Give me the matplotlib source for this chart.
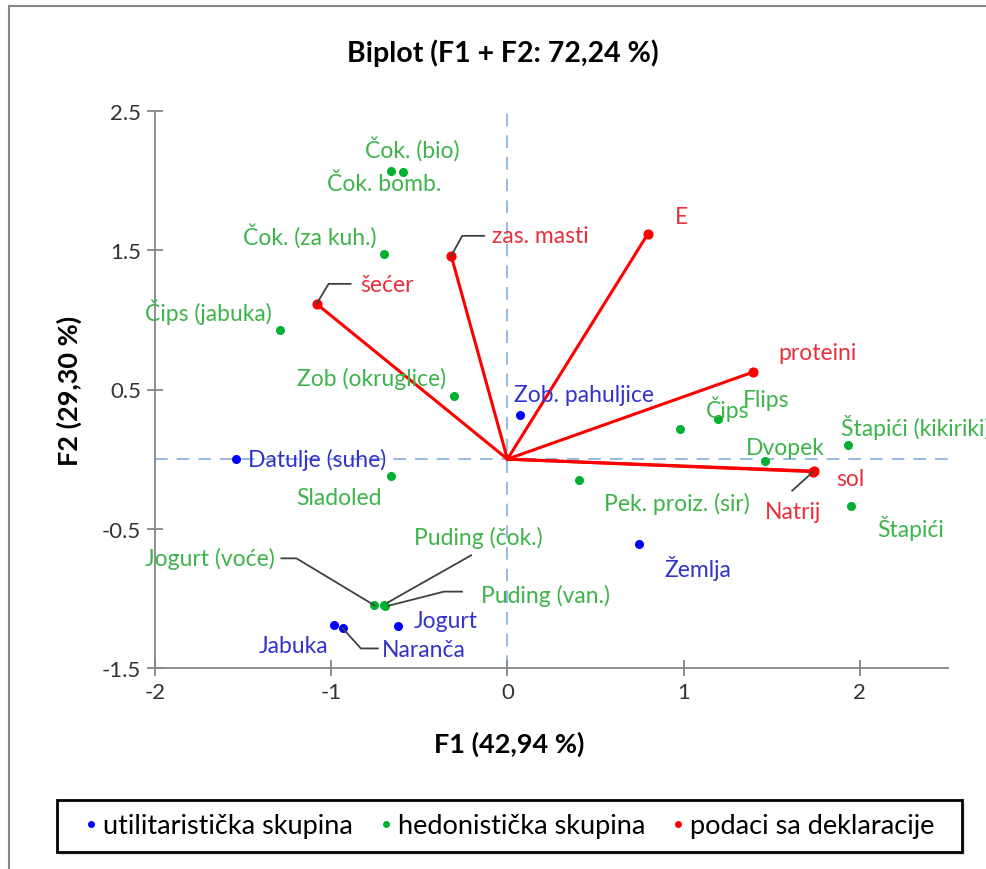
import numpy as np
import matplotlib.pyplot as plt
from matplotlib.lines import Line2D
from matplotlib.patches import Rectangle
from matplotlib.transforms import IdentityTransform

plt.rcParams['font.family'] = ['Lato', 'DejaVu Sans']
plt.rcParams['axes.unicode_minus'] = False

# utilitarian group (blue)
blue_names = ['Zob. pahuljice', 'Datulje (suhe)', 'Žemlja', 'Jogurt', 'Jabuka', 'Naranča']
blue_x = [0.074, -1.54, 0.746, -0.62, -0.986, -0.934]
blue_y = [0.317, 0.0, -0.61, -1.20, -1.19, -1.216]

# hedonistic group (green)
green_names = ['Čok. (bio)', 'Čok. bomb.', 'Čok. (za kuh.)', 'Čips (jabuka)', 'Zob (okruglice)',
               'Sladoled', 'Jogurt (voće)', 'Puding (čok.)', 'Puding (van.)', 'Čips', 'Flips',
               'Dvopek', 'Štapići (kikiriki)', 'Štapići', 'Pek. proiz. (sir)']
green_x = [-0.661, -0.593, -0.70, -1.288, -0.302, -0.661, -0.755, -0.70, -0.695,
           0.98, 1.197, 1.464, 1.93, 1.95, 0.405]
green_y = [2.07, 2.065, 1.475, 0.928, 0.453, -0.122, -1.05, -1.05, -1.052,
           0.216, 0.288, -0.013, 0.10, -0.34, -0.152]

# variables from the declaration (red vectors)
red_names = ['šećer', 'zas. masti', 'E', 'proteini', 'sol', 'Natrij']
red_x = [-1.083, -0.319, 0.798, 1.396, 1.738, 1.735]
red_y = [1.115, 1.46, 1.62, 0.626, -0.086, -0.09]

# label placement: (dx, dy) in pixels from the point (dy down), alignment, leader path
place = {
    'Zob. pahuljice': (-6, -20, 'left', None),
    'Datulje (suhe)': (12, 0, 'left', None),
    'Žemlja': (26, 23, 'left', None),
    'Jogurt': (16, -6, 'left', None),
    'Jabuka': (-5, 21, 'right', None),
    'Naranča': (39, 21, 'left', [(0, 0), (18, 20), (35, 20)]),
    'Čok. (bio)': (21, -23, 'center', None),
    'Čok. bomb.': (-19, 12, 'center', None),
    'Čok. (za kuh.)': (-8, -19, 'right', None),
    'Čips (jabuka)': (-9, -19, 'right', None),
    'Zob (okruglice)': (-8, -18, 'right', None),
    'Sladoled': (-9, 21, 'right', None),
    'Jogurt (voće)': (-100, -47, 'right', [(0, 0), (-78, -47), (-93, -47)]),
    'Puding (čok.)': (30, -68, 'left', [(4, -3), (87, -50)]),
    'Puding (van.)': (96, -11, 'left', [(4, 0), (59, -14), (77, -14)]),
    'Čips': (26, -21, 'left', None),
    'Flips': (24, -20, 'left', None),
    'Dvopek': (-20, -13, 'left', None),
    'Štapići (kikiriki)': (-7, -19, 'left', None),
    'Štapići': (26, 21, 'left', None),
    'Pek. proiz. (sir)': (25, 23, 'left', None),
    'šećer': (44, -19, 'left', [(0, 0), (12, -20), (34, -20)]),
    'zas. masti': (41, -20, 'left', [(0, 0), (11, -20), (33, -20)]),
    'E': (27, -17, 'left', None),
    'proteini': (25, -19, 'left', None),
    'sol': (22, 7, 'left', None),
    'Natrij': (-20, 40, 'center', [(0, 0), (-21, 19)]),
}

W, H = 987, 870
fig = plt.figure(figsize=(W / 100, H / 100), dpi=100)
ax = fig.add_axes([155 / W, 1 - 669 / H, (948 - 155) / W, (669 - 112) / H])
ax.set_xlim(-2, 2.5)
ax.set_ylim(-1.5, 2.5)

ax.axhline(0, color='#8db3e2', lw=1.3, dashes=(7, 5), zorder=1)
ax.axvline(0, color='#8db3e2', lw=1.3, dashes=(7, 5), zorder=1)

for x, y in zip(red_x, red_y):
    ax.plot([0, x], [0, y], color='#ff0000', lw=2.2, zorder=2)
ax.scatter(red_x, red_y, s=40, color='#ff0000', zorder=3)
ax.scatter(blue_x, blue_y, s=30, color='#0000ff', zorder=3)
ax.scatter(green_x, green_y, s=30, color='#00b030', zorder=3)

fig.canvas.draw()


def label(names, xs, ys, color):
    for n, x, y in zip(names, xs, ys):
        dx, dy, ha, path = place[n]
        ax.annotate(n, (x, y), xytext=(dx, -dy), textcoords='offset pixels',
                    ha=ha, va='center', color=color, fontsize=16.5, zorder=4,
                    annotation_clip=False)
        if path:
            px, py = ax.transData.transform((x, y))
            lx = [px + a for a, b in path]
            ly = [py - b for a, b in path]
            fig.add_artist(Line2D(lx, ly, transform=IdentityTransform(),
                                  color='#404040', lw=1.3))


label(blue_names, blue_x, blue_y, '#3333cc')
label(green_names, green_x, green_y, '#3cb44a')
label(red_names, red_x, red_y, '#e8303c')

for s in ['top', 'right']:
    ax.spines[s].set_visible(False)
for s in ['left', 'bottom']:
    ax.spines[s].set_color('#868686')
    ax.spines[s].set_linewidth(1.3)
ax.set_xticks([-2, -1, 0, 1, 2])
ax.set_yticks([-1.5, -0.5, 0.5, 1.5, 2.5])
ax.set_yticklabels(['-1.5', '-0.5', '0.5', '1.5', '2.5'])
ax.tick_params(direction='inout', length=12, width=1.3, color='#868686',
               labelsize=16, labelcolor='#333333', pad=4)

ax.set_title('Biplot (F1 + F2: 72,24 %)', fontsize=20.5, fontweight='bold', pad=36,
             x=(503 - 155) / 793)
ax.set_xlabel('F1 (42,94 %)', fontsize=19.5, fontweight='bold')
ax.xaxis.set_label_coords((509 - 155) / 793, -(732 - 669) / 557)
ax.set_ylabel('F2 (29,30 %)', fontsize=19.5, fontweight='bold', labelpad=14)

# outer frame lines (top and left)
fig.add_artist(Line2D([9 / W, 9 / W], [0, 1 - 7 / H], color='#888888', lw=1.5))
fig.add_artist(Line2D([9 / W, 1], [1 - 7 / H, 1 - 7 / H], color='#888888', lw=1.5))

# legend box
fig.add_artist(Rectangle((60 / W, 1 - 856 / H), 905 / W, 52 / H, transform=fig.transFigure,
                         facecolor='#cccccc', edgecolor='none', alpha=0.6))
fig.add_artist(Rectangle((57 / W, 1 - 853 / H), 905 / W, 52 / H, transform=fig.transFigure,
                         facecolor='white', edgecolor='black', lw=2))
handles = [Line2D([], [], ls='none', marker='o', ms=4, color=c)
           for c in ['#0000ff', '#00b030', '#ff0000']]
fig.legend(handles, ['utilitaristička skupina', 'hedonistička skupina', 'podaci sa deklaracije'],
           loc='center', bbox_to_anchor=(510 / W, 1 - 827 / H), ncol=3, frameon=False,
           fontsize=19.5, handlelength=0.4, handletextpad=0.25, columnspacing=1.0)

fig.savefig('out.png', dpi=100, facecolor='white')
